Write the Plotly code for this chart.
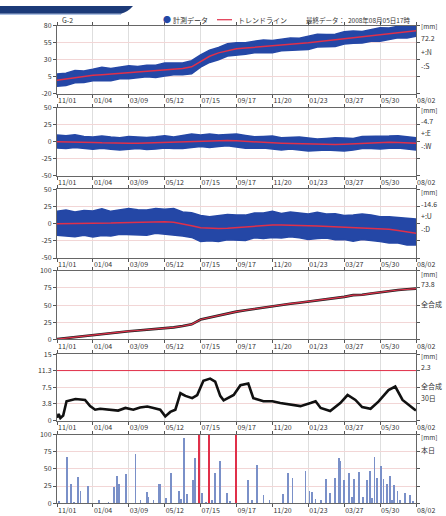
import pandas as pd
import plotly.graph_objects as go

# ---------------- data ----------------
START = "2006-11-01"
END = "2008-08-02"
tick_dates = ["2006-11-01", "2007-01-04", "2007-03-09", "2007-05-12", "2007-07-15", "2007-09-17",
              "2007-11-20", "2008-01-23", "2008-03-27", "2008-05-30", "2008-08-02"]
tick_labels = ["11/01", "01/04", "03/09", "05/12", "07/15", "09/17",
               "11/20", "01/23", "03/27", "05/30", "08/02"]

# sample day offsets from START
grid_days = [0, 16, 32, 48, 64, 80, 96, 112, 128, 144, 160, 176, 192, 208, 224, 240, 256, 272, 288, 304,
             320, 336, 352, 368, 384, 400, 416, 432, 448, 464, 480, 496, 512, 528, 544, 560, 576, 592,
             608, 624, 640]

# panel 1 (N-S)
ns_trend = [0, 2, 4, 5.5, 7, 8, 9, 10, 11, 12, 13, 14, 15, 16, 17, 19.5, 27, 35, 40, 43.5,
            46, 47, 48, 49, 50, 51, 52, 53.5, 55, 56.5, 58, 59.5, 61, 63, 63.5, 65, 67, 68.5,
            70, 71, 72.5]
ns_up = [9, 8, 10, 8, 9, 11, 8, 9, 10, 8, 9, 8, 10, 9, 8, 9, 10, 9, 8, 10, 9, 8, 9, 10, 8, 9,
         10, 8, 9, 11, 9, 8, 10, 9, 8, 9, 10, 8, 9, 8, 7]
ns_lo = [9, 10, 8, 9, 8, 9, 10, 8, 9, 9, 8, 10, 9, 8, 9, 10, 8, 9, 10, 8, 9, 9, 8, 9, 10, 8,
         9, 9, 10, 8, 9, 10, 8, 9, 9, 8, 10, 9, 8, 9, 8]

# panel 2 (E-W)
ew_trend = [0, 0, -0.5, -1, -1, -1.5, -2, -2, -2, -2, -1.5, -1.5, -1, -1, 0, 0.5, 1, 1.5, 2, 2,
            1.5, 0.5, -0.5, -1, -1.5, -2, -2.5, -3, -3.5, -4, -4, -4, -3.5, -3, -2, -1, -0.5,
            -0.5, -1, -1.5, -2]
ew_up = [10, 9, 11, 9, 8, 10, 9, 8, 10, 9, 8, 9, 10, 8, 9, 11, 9, 10, 8, 9, 10, 9, 8, 9, 10, 8,
         9, 10, 9, 8, 9, 10, 9, 8, 10, 9, 8, 9, 10, 9, 8]
ew_lo = [9, 10, 8, 9, 10, 8, 9, 10, 9, 8, 10, 9, 8, 9, 10, 9, 8, 10, 9, 8, 9, 10, 9, 8, 9, 10,
         8, 9, 10, 9, 8, 9, 10, 9, 8, 9, 10, 9, 8, 9, 10]

# panel 3 (U-D)
ud_trend = [0, 0, 0, 0.3, 0.5, 0.8, 1, 1.5, 2, 2.5, 3, 3, 3, 2, 0, -3, -6, -7, -7, -6.5,
            -5.5, -4.5, -3.5, -2.5, -2, -2, -2, -2.5, -3, -3.5, -4, -4.5, -5, -5.5, -6, -6.5,
            -7, -8, -10, -12, -14]
ud_up = [18, 20, 17, 19, 18, 21, 17, 19, 20, 18, 17, 19, 18, 20, 17, 19, 18, 17, 19, 20, 18, 17,
         19, 18, 20, 17, 19, 18, 17, 20, 18, 19, 17, 18, 20, 19, 17, 18, 19, 20, 21]
ud_lo = [17, 18, 19, 17, 20, 18, 19, 17, 18, 19, 20, 17, 18, 19, 18, 17, 20, 18, 19, 17, 18, 20,
         17, 19, 18, 19, 17, 18, 20, 18, 17, 19, 18, 20, 17, 18, 19, 20, 18, 19, 17]

# panel 4 (cumulative total)
total = [0.5, 2, 4, 5.5, 7, 8.5, 9.5, 10.5, 12, 13, 14, 14.5, 15.5, 17.5, 19.5, 22, 29, 32, 34, 37,
         40.5, 42.5, 44.5, 47, 49, 50.5, 52, 53.5, 55, 57, 58.5, 60, 62, 64.5, 65, 67, 69, 71,
         72, 73, 74]

# panel 5 (30-day total)
d30_days = [0, 3, 6, 11, 17, 33, 42, 50, 59, 68, 77, 95, 109, 122, 136, 148, 161, 172, 184, 193,
            202, 211, 220, 229, 241, 250, 261, 273, 282, 291, 297, 315, 327, 341, 350, 368, 384,
            398, 416, 434, 452, 461, 470, 487, 505, 518, 532, 544, 559, 573, 591, 603, 616, 626,
            638, 640]
d30_vals = [0.7, 1.5, 0.6, 1.2, 4.4, 4.9, 4.8, 4.7, 3.3, 2.5, 2.7, 2.4, 2.3, 2.9, 2.5, 3.0, 3.2,
            2.9, 2.5, 1.0, 2.0, 2.5, 6.2, 5.6, 5.1, 5.8, 9.0, 9.5, 8.8, 5.6, 4.6, 5.8, 8.0, 8.4,
            5.1, 4.4, 4.4, 4.0, 3.6, 3.3, 4.0, 4.4, 2.9, 2.2, 4.0, 5.8, 4.7, 3.1, 2.7, 4.3, 6.9,
            7.7, 4.7, 3.6, 2.5, 2.3]
d30_limit = 11.3

# panel 6 (rainfall)
rain_dates = ["2006-11-19", "2006-11-25", "2006-11-26", "2006-12-08", "2006-12-13", "2006-12-26",
              "2007-02-10", "2007-02-16", "2007-02-19", "2007-03-04", "2007-03-21", "2007-04-10",
              "2007-04-13", "2007-05-01", "2007-05-04", "2007-05-23", "2007-06-06", "2007-06-16",
              "2007-06-21", "2007-07-02", "2007-07-04", "2007-07-05", "2007-07-17", "2007-08-10",
              "2007-08-19", "2007-08-31", "2007-10-08", "2007-10-23", "2007-11-04", "2007-12-09",
              "2007-12-18", "2007-12-26", "2008-01-18", "2008-01-25", "2008-01-29", "2008-02-24",
              "2008-03-02", "2008-03-11", "2008-03-18", "2008-03-20", "2008-03-27", "2008-04-05",
              "2008-04-14", "2008-04-22", "2008-04-30", "2008-05-07", "2008-05-12", "2008-05-20",
              "2008-05-24", "2008-06-01", "2008-06-05", "2008-06-11", "2008-06-17", "2008-06-24",
              "2008-06-30", "2008-07-13", "2008-07-22",
              "2006-11-05", "2006-12-01", "2007-01-15", "2007-02-01", "2007-03-30", "2007-04-22",
              "2007-05-15", "2007-06-10", "2007-07-25", "2007-08-05", "2007-09-05", "2007-10-15",
              "2007-11-15", "2008-02-05", "2008-02-15", "2008-04-10", "2008-05-16", "2008-06-20",
              "2008-07-05", "2008-07-28"]
rain_vals = [68, 12, 29, 39, 18, 25, 24, 40, 28, 43, 72, 17, 10, 29, 29, 45, 19, 96, 14, 34, 43, 67,
             15, 45, 62, 15, 35, 56, 12, 14, 45, 38, 48, 19, 17, 36, 15, 38, 67, 62, 34, 44, 36, 46,
             10, 34, 48, 68, 38, 55, 36, 29, 40, 27, 19, 15, 12,
             4, 3, 5, 2, 6, 5, 8, 7, 3, 6, 4, 5, 6, 7, 5, 9, 8, 6, 5, 4]
alert_dates = ["2007-07-12", "2007-07-30", "2007-09-16"]
alert_vals = [100, 100, 100]

latest = "2008年08月05日17時"
panel_notes = [
    ["[mm]", "72.2", "+:N", "-:S"],
    ["[mm]", "-4.7", "+:E", "-:W"],
    ["[mm]", "-14.6", "+:U", "-:D"],
    ["[mm]", "73.8", "全合成"],
    ["[mm]", "2.3", "全合成", "30日"],
    ["[mm]", "本日"],
]

# ---------------- layout helpers ----------------
W, H = 446, 516
ML, MR = 57, 30
PW = W - ML - MR
FONT = "Noto Sans CJK JP, DejaVu Sans, sans-serif"


def pxx(px):
    return (px - ML) / PW


def pxy(py):
    return 1 - py / H


panels = [(20, 89.5), (104, 173), (187, 257), (270, 340), (355, 423), (437, 507)]
yranges = [(-20, 80), (-50, 50), (-50, 50), (0, 100), (0, 15), (0, 100)]
yticks = [[80, 55, 30, 5, -20], [50, 25, 0, -25, -50], [50, 25, 0, -25, -50],
          [100, 75, 50, 25, 0], [15, 11.3, 7.5, 3.8, 0], [100, 75, 50, 25, 0]]
note_y = [[20, 33, 47, 61], [106, 117, 129, 143], [190, 202, 214, 227],
          [273, 284, 304], [357, 368, 388, 400], [440, 453]]

start = pd.Timestamp(START)
gdates = [start + pd.Timedelta(days=d) for d in grid_days]
d30_dates = [start + pd.Timedelta(days=d) for d in d30_days]

BLUE = "#2447a6"
RED = "#e0304a"

fig = go.Figure()


def band(idx, trend, up, lo):
    ax = "" if idx == 1 else str(idx)
    upper = [t + u for t, u in zip(trend, up)]
    lower = [t - l for t, l in zip(trend, lo)]
    fig.add_trace(go.Scatter(x=gdates + gdates[::-1], y=upper + lower[::-1], fill="toself",
                             fillcolor=BLUE, mode="lines", line=dict(color=BLUE, width=1.5),
                             xaxis="x" + ax, yaxis="y" + ax, hoverinfo="skip", showlegend=False))
    fig.add_trace(go.Scatter(x=gdates, y=trend, mode="lines", line=dict(color=RED, width=1.5),
                             xaxis="x" + ax, yaxis="y" + ax, showlegend=False))


band(1, ns_trend, ns_up, ns_lo)
band(2, ew_trend, ew_up, ew_lo)
band(3, ud_trend, ud_up, ud_lo)

# panel 4
fig.add_trace(go.Scatter(x=gdates, y=total, mode="lines", line=dict(color="#222", width=2.6),
                         xaxis="x4", yaxis="y4", showlegend=False))
fig.add_trace(go.Scatter(x=gdates, y=total, mode="lines", line=dict(color=RED, width=1.2),
                         xaxis="x4", yaxis="y4", showlegend=False))

# panel 5
fig.add_trace(go.Scatter(x=[START, END], y=[d30_limit, d30_limit], mode="lines",
                         line=dict(color=RED, width=1), xaxis="x5", yaxis="y5", showlegend=False))
fig.add_trace(go.Scatter(x=d30_dates, y=d30_vals, mode="lines", line=dict(color="#111", width=2.6),
                         xaxis="x5", yaxis="y5", showlegend=False))

# panel 6
DAY = 86400000
fig.add_trace(go.Bar(x=rain_dates, y=rain_vals, width=1.4 * DAY, marker=dict(color="#7a90c8", line_width=0),
                     xaxis="x6", yaxis="y6", showlegend=False))
fig.add_trace(go.Bar(x=alert_dates, y=alert_vals, width=2.0 * DAY, marker=dict(color=RED, line_width=0),
                     xaxis="x6", yaxis="y6", showlegend=False))

layout = dict(width=W, height=H, margin=dict(l=ML, r=MR, t=0, b=0),
              paper_bgcolor="white", plot_bgcolor="white", bargap=0,
              font=dict(family=FONT, size=7, color="#333"), showlegend=False)

for i, ((top, bot), yr, yt) in enumerate(zip(panels, yranges, yticks), start=1):
    sfx = "" if i == 1 else str(i)
    layout["xaxis" + sfx] = dict(
        type="date", range=[START, END], domain=[0, 1], anchor="y" + sfx,
        tickvals=tick_dates, ticktext=tick_labels, ticklabelposition="outside right",
        ticks="outside", ticklen=3, tickcolor="#555", showgrid=True, gridcolor="#dedede",
        showline=True, linecolor="#666", linewidth=1, mirror="ticks",
        tickfont=dict(size=7, color="#333"), fixedrange=True)
    layout["yaxis" + sfx] = dict(
        range=list(yr), domain=[pxy(bot), pxy(top)], anchor="x" + sfx,
        tickvals=yt, ticktext=[str(v) for v in yt], ticks="outside", ticklen=3, tickcolor="#555",
        showgrid=True, gridcolor="#f2d6d6", zeroline=False, showline=True, linecolor="#666",
        linewidth=1, mirror="ticks", tickfont=dict(size=7, color="#333"), fixedrange=True)

annotations = []
for notes, ys in zip(panel_notes, note_y):
    for t, y in zip(notes, ys):
        annotations.append(dict(text=t, x=pxx(419), y=pxy(y), xref="paper", yref="paper",
                                xanchor="left", yanchor="middle", showarrow=False,
                                font=dict(size=6.5 if t == "[mm]" else 7, color="#333")))

# title and legend row
annotations += [
    dict(text="G-2", x=pxx(60), y=pxy(14), xref="paper", yref="paper", xanchor="left",
         yanchor="middle", showarrow=False, font=dict(size=7, color="#333")),
    dict(text="●", x=pxx(161), y=pxy(14), xref="paper", yref="paper", xanchor="left",
         yanchor="middle", showarrow=False, font=dict(size=8, color=BLUE)),
    dict(text="計測データ", x=pxx(171), y=pxy(14), xref="paper", yref="paper", xanchor="left",
         yanchor="middle", showarrow=False, font=dict(size=7, color="#333")),
    dict(text="トレンドライン", x=pxx(236), y=pxy(14), xref="paper", yref="paper", xanchor="left",
         yanchor="middle", showarrow=False, font=dict(size=7, color="#333")),
    dict(text="最終データ：  " + latest, x=pxx(304), y=pxy(14), xref="paper", yref="paper",
         xanchor="left", yanchor="middle", showarrow=False, font=dict(size=6.5, color="#333")),
]
layout["annotations"] = annotations

# banner and legend line
x0, x1, x2 = pxx(0), pxx(133), pxx(121)
ya, yb = pxy(0), pxy(8)
layout["shapes"] = [
    dict(type="path", xref="paper", yref="paper",
         path=f"M {x0},{ya} L {x1},{ya} Q {pxx(128)},{pxy(6)} {x2},{yb} L {x0},{yb} Z",
         fillcolor="#1c3a78", line=dict(width=0)),
    dict(type="line", xref="paper", yref="paper", x0=x0, x1=x2, y0=pxy(8.5), y1=pxy(8.5),
         line=dict(color="#9ab4de", width=1)),
    dict(type="line", xref="paper", yref="paper", x0=pxx(217), x1=pxx(232), y0=pxy(14), y1=pxy(14),
         line=dict(color=RED, width=1.2)),
]

fig.update_layout(**layout)
fig.write_html("out.html", config={"displayModeBar": False},
               post_script="document.body.style.margin='0';document.body.style.overflow='hidden';")
